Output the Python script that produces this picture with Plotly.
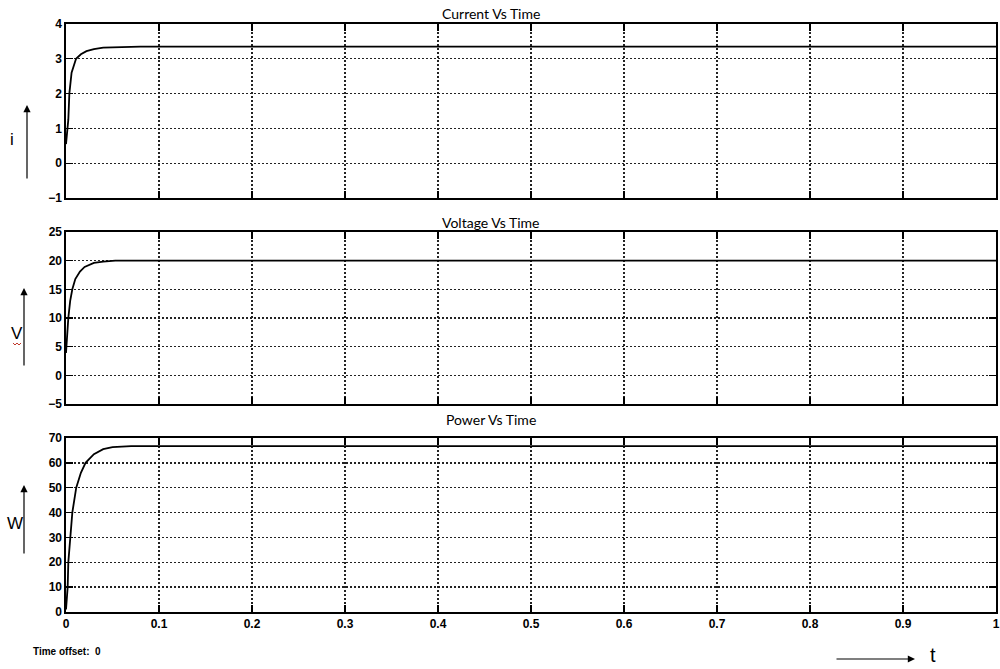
import plotly.graph_objects as go

# ---- data ----
t_current = [0, 0.0012, 0.0025, 0.0036, 0.006, 0.0108, 0.016, 0.022, 0.03, 0.04, 0.06, 0.08, 1.0]
current = [0.55, 0.9, 1.25, 2.0, 2.6, 3.0, 3.13, 3.22, 3.28, 3.32, 3.34, 3.35, 3.35]

t_voltage = [0, 0.001, 0.0025, 0.0045, 0.0068, 0.01, 0.015, 0.02, 0.03, 0.04, 0.053, 1.0]
voltage = [3.9, 7.0, 10.0, 13.0, 15.0, 16.8, 18.1, 18.9, 19.6, 19.85, 20.0, 20.0]

t_power = [0, 0.001, 0.0018, 0.0025, 0.0043, 0.0068, 0.011, 0.016, 0.021, 0.03, 0.04, 0.05, 0.07, 1.0]
power = [1, 5, 10, 20, 30, 40, 50, 56, 60, 63.5, 65.5, 66.3, 66.7, 66.7]

titles = ["Current Vs Time", "Voltage Vs Time", "Power Vs Time"]
y_labels = ["i", "V", "W"]
x_ticks = [0, 0.1, 0.2, 0.3, 0.4, 0.5, 0.6, 0.7, 0.8, 0.9, 1.0]
x_tick_text = ["0", "0.1", "0.2", "0.3", "0.4", "0.5", "0.6", "0.7", "0.8", "0.9", "1"]
y_ranges = [[-1, 4], [-5, 25], [0, 70]]
y_dticks = [1, 5, 10]

W, H = 1000, 669
def px_x(p): return p / W
def px_y(p): return 1 - p / H

# panel pixel boxes in window coordinates (top, bottom)
panels = [(24, 198), (232, 404), (438, 612)]
x_left, x_right = 66, 996

tick_font = dict(family="Liberation Sans Narrow, Liberation Sans, Arial", size=12,
                 color="black", weight="bold")

fig = go.Figure()
series = [(t_current, current), (t_voltage, voltage), (t_power, power)]
for i, (tx, ty) in enumerate(series):
    suffix = "" if i == 0 else str(i + 1)
    fig.add_trace(go.Scatter(x=tx, y=ty, mode="lines",
                             line=dict(color="black", width=1.8),
                             xaxis="x" + suffix, yaxis="y" + suffix,
                             showlegend=False, hoverinfo="skip"))

layout = dict(
    template="none",
    width=W, height=H, margin=dict(l=0, r=0, t=0, b=0, pad=0, autoexpand=False),
    paper_bgcolor="white", plot_bgcolor="white",
    font=dict(family="Liberation Sans, Arial, sans-serif", color="black", size=11),
)
grid_common = dict(
    showline=True, linecolor="black", linewidth=1.6, mirror="ticks",
    ticks="inside", ticklen=7, tickcolor="black", tickwidth=1.3,
    showgrid=True, gridcolor="#222222", griddash="1.5px,2.5px", gridwidth=1.3,
    zeroline=False, fixedrange=True, automargin=False,
    tickfont=tick_font, ticklabeloverflow="allow",
)
for i, (top, bot) in enumerate(panels):
    suffix = "" if i == 0 else str(i + 1)
    layout["xaxis" + suffix] = dict(
        domain=[px_x(x_left), px_x(x_right)], range=[0, 1],
        anchor="y" + suffix,
        tickvals=x_ticks, ticktext=x_tick_text,
        showticklabels=(i == 2),
        **grid_common,
    )
    layout["yaxis" + suffix] = dict(
        domain=[px_y(bot), px_y(top)], range=y_ranges[i],
        anchor="x" + suffix, dtick=y_dticks[i], tick0=0,
        **grid_common,
    )
fig.update_layout(**layout)

annotations = []
title_y = [14, 222, 419]
for i in range(3):
    annotations.append(dict(text=titles[i], x=px_x(491), y=px_y(title_y[i]),
                            xref="paper", yref="paper", showarrow=False,
                            font=dict(family="Lato, Open Sans, sans-serif", size=14, color="black"),
                            xanchor="center", yanchor="middle"))

# y-axis labels with upward arrows
label_pos = [(12, 140), (17, 333), (15, 523)]
arrows = [(27, 105, 180), (24, 288, 367), (24, 485, 555)]
for i in range(3):
    lx, ly = label_pos[i]
    annotations.append(dict(text=y_labels[i], x=px_x(lx), y=px_y(ly),
                            xref="paper", yref="paper", showarrow=False,
                            font=dict(family="Liberation Sans, Arial", size=17, color="black"),
                            xanchor="center", yanchor="middle"))
    ax_, head_y, tail_y = arrows[i]
    annotations.append(dict(text="", x=px_x(ax_), y=px_y(head_y),
                            xref="paper", yref="paper",
                            ax=0, ay=tail_y - head_y,
                            showarrow=True, arrowhead=2, arrowsize=1.2,
                            arrowwidth=1.2, arrowcolor="black"))

# t arrow
annotations.append(dict(text="", x=px_x(915), y=px_y(659), xref="paper", yref="paper",
                        ax=-80, ay=0, showarrow=True, arrowhead=2, arrowsize=1.2,
                        arrowwidth=1.2, arrowcolor="black"))
annotations.append(dict(text="t", x=px_x(933), y=px_y(655), xref="paper", yref="paper",
                        showarrow=False, font=dict(family="Liberation Sans, Arial", size=20, color="black"),
                        xanchor="center", yanchor="middle"))
annotations.append(dict(text="Time offset:  0", x=px_x(31), y=px_y(651), xref="paper", yref="paper",
                        showarrow=False,
                        font=dict(family="Liberation Sans Narrow, Liberation Sans, Arial", size=10,
                                  color="black", weight="bold"),
                        xanchor="left", yanchor="middle"))
fig.update_layout(annotations=annotations)

# red spell-check squiggle under "V"
fig.add_shape(type="path",
              path="M {:.4f},{:.4f} L {:.4f},{:.4f} L {:.4f},{:.4f} L {:.4f},{:.4f} L {:.4f},{:.4f}".format(
                  px_x(13), px_y(343), px_x(15), px_y(345), px_x(17), px_y(343),
                  px_x(19), px_y(345), px_x(21), px_y(343)),
              xref="paper", yref="paper", line=dict(color="#c0392b", width=1))

fig.write_html("out.html",
               config={"displayModeBar": False, "staticPlot": True},
               post_script="document.body.style.margin='0';document.body.style.overflow='hidden';")
